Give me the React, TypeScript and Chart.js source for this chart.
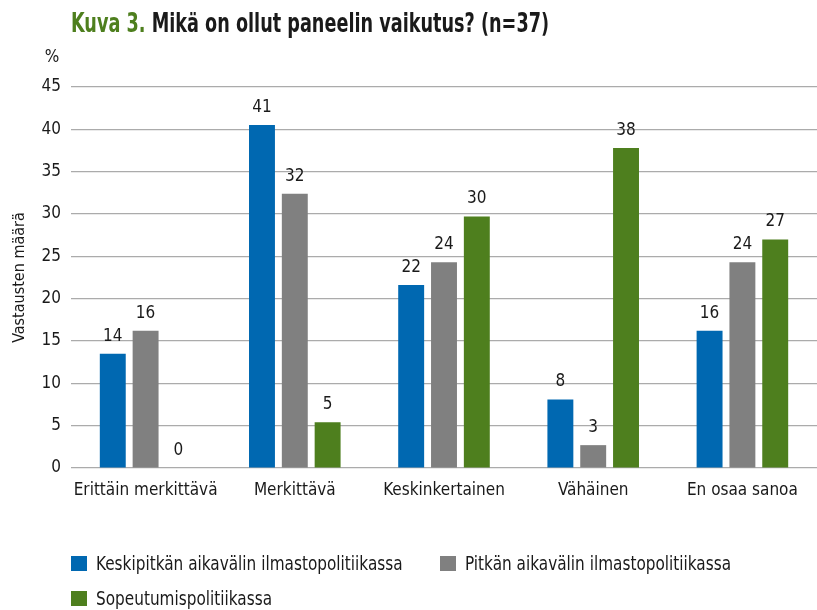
import React, { useEffect, useRef } from "react";
import { Chart, registerables } from "chart.js";

Chart.register(...registerables);

const categories = ["Erittäin merkittävä", "Merkittävä", "Keskinkertainen", "Vähäinen", "En osaa sanoa"];
const seriesNames = [
  "Keskipitkän aikavälin ilmastopolitiikassa",
  "Pitkän aikavälin ilmastopolitiikassa",
  "Sopeutumispolitiikassa",
];
const keskipitka = [13.5, 40.5, 21.6, 8.1, 16.2];
const pitka = [16.2, 32.4, 24.3, 2.7, 24.3];
const sopeutuminen = [0, 5.4, 29.7, 37.8, 27.0];
const seriesColors = ["#0068b1", "#808080", "#4e7f1e"];
const yMin = 0;
const yMax = 45;
const yStep = 5;
const titleLead = "Kuva 3.";
const titleRest = " Mikä on ollut paneelin vaikutus? (n=37)";
const yAxisTitle = "Vastausten määrä";
const unitLabel = "%";

const FONT = "'Liberation Sans Narrow', 'DejaVu Sans Condensed', 'Arial Narrow', 'Liberation Sans', sans-serif";

const labelPlugin = {
  id: "valueLabels",
  afterDatasetsDraw(chart: any) {
    const ctx = chart.ctx;
    ctx.save();
    ctx.font = `17px ${FONT}`;
    ctx.fillStyle = "#1a1a1a";
    ctx.textAlign = "center";
    ctx.textBaseline = "bottom";
    chart.data.datasets.forEach((ds: any, i: number) => {
      const meta = chart.getDatasetMeta(i);
      meta.data.forEach((bar: any, j: number) => {
        const v = ds.data[j];
        ctx.fillText(String(Math.round(v)), bar.x, bar.y - 9);
      });
    });
    ctx.textAlign = "center";
    ctx.textBaseline = "middle";
    ctx.fillText(unitLabel, 52, 58);
    ctx.restore();
  },
};

export default function App() {
  const ref = useRef<HTMLCanvasElement>(null);
  useEffect(() => {
    if (!ref.current) return;
    const chart = new Chart(ref.current, {
      type: "bar",
      data: {
        labels: categories,
        datasets: [keskipitka, pitka, sopeutuminen].map((d, i) => ({
          label: seriesNames[i],
          data: d,
          backgroundColor: seriesColors[i],
          barPercentage: 0.79,
          categoryPercentage: 0.66,
        })),
      },
      options: {
        animation: false,
        responsive: false,
        maintainAspectRatio: false,
        layout: { padding: { top: 87, right: -10, left: 0, bottom: 0 } },
        plugins: {
          legend: { display: false },
          title: { display: false },
          tooltip: { enabled: false },
        },
        scales: {
          x: {
            grid: { display: false, drawTicks: false },
            border: { display: false },
            ticks: {
              color: "#1a1a1a",
              font: { family: FONT, size: 17 },
              padding: 12,
              maxRotation: 0,
              autoSkip: false,
            },
            afterFit(scale: any) {
              scale.height = 142;
            },
          },
          y: {
            min: yMin,
            max: yMax,
            grid: { color: "#ababab", lineWidth: 1.2, drawTicks: false },
            border: { display: false },
            ticks: {
              stepSize: yStep,
              color: "#1a1a1a",
              font: { family: FONT, size: 17 },
              padding: 10,
            },
            title: {
              display: true,
              text: yAxisTitle,
              color: "#1a1a1a",
              font: { family: FONT, size: 16 },
              padding: { top: 10, bottom: 0 },
            },
            afterFit(scale: any) {
              scale.width = 71;
            },
          },
        },
      },
      plugins: [labelPlugin],
    });
    return () => chart.destroy();
  }, []);

  const legendItem = (i: number, left: number, top: number) => (
    <div
      key={i}
      style={{ position: "absolute", left, top, display: "flex", alignItems: "center", whiteSpace: "nowrap" }}
    >
      <span style={{ display: "inline-block", width: 16, height: 15, background: seriesColors[i], marginRight: 9 }} />
      <span
        style={{
          display: "inline-block",
          fontSize: 19,
          color: "#1a1a1a",
          lineHeight: "20px",
          transform: "scaleX(0.895)",
          transformOrigin: "left center",
        }}
      >
        {seriesNames[i]}
      </span>
    </div>
  );

  return (
    <div style={{ position: "absolute", left: 0, top: 0, width: 817, height: 610, background: "#fff", fontFamily: FONT, overflow: "hidden" }}>
      <canvas ref={ref} width={817} height={610} style={{ position: "absolute", left: 0, top: 0 }} />
      <div
        style={{
          position: "absolute",
          left: 71,
          top: 8,
          fontSize: 26,
          fontWeight: "bold",
          lineHeight: "30px",
          whiteSpace: "nowrap",
          color: "#1a1a1a",
          transform: "scaleX(0.755)",
          transformOrigin: "left center",
        }}
      >
        <span style={{ color: "#4e7f1e" }}>{titleLead}</span>
        <span>{titleRest}</span>
      </div>
      {legendItem(0, 71, 553)}
      {legendItem(1, 440, 553)}
      {legendItem(2, 71, 588)}
    </div>
  );
}
